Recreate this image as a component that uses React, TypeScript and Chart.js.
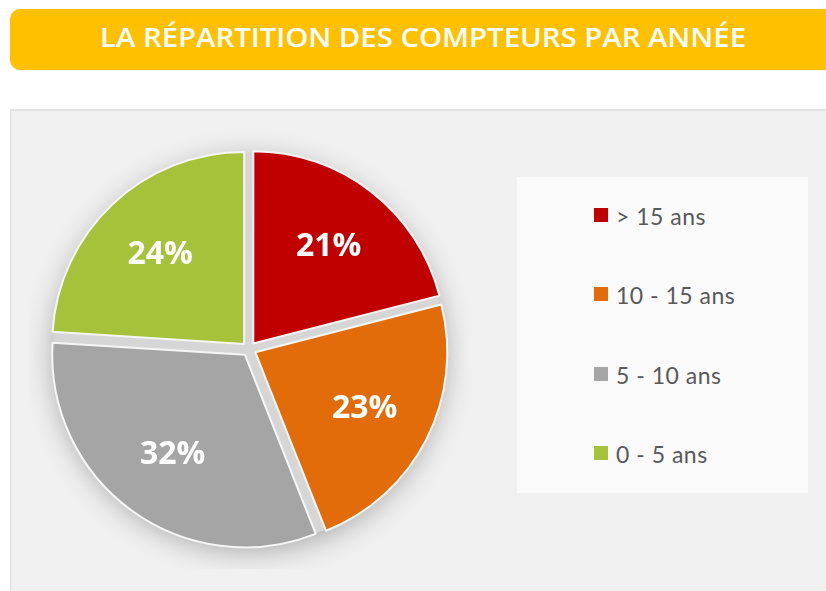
import React, { useEffect, useLayoutEffect, useRef } from "react";
import { Chart, registerables } from "chart.js";

Chart.register(...registerables);

const TITLE = "LA RÉPARTITION DES COMPTEURS PAR ANNÉE";
const categories = ["> 15 ans", "10 - 15 ans", "5 - 10 ans", "0 - 5 ans"];
const values = [21, 23, 32, 24];
const colors = ["#C00000", "#E36C0A", "#A5A5A5", "#A6C23A"];

const PIE_R = 192;
const EXPLODE = 7; // px

const shadowPlugin = {
  id: "pieShadow",
  beforeDatasetsDraw(chart: any) {
    const meta = chart.getDatasetMeta(0);
    const arc = meta.data[0];
    if (!arc) return;
    const { x, y } = arc;
    const ctx = chart.ctx;
    ctx.save();
    ctx.shadowColor = "rgba(0,0,0,0.30)";
    ctx.shadowBlur = 28;
    ctx.shadowOffsetX = 0;
    ctx.shadowOffsetY = 6;
    ctx.fillStyle = "#d6d6d6";
    ctx.beginPath();
    ctx.arc(x, y, PIE_R + 4, 0, Math.PI * 2);
    ctx.fill();
    ctx.restore();
  },
};

const labelPlugin = {
  id: "pieLabels",
  afterDatasetsDraw(chart: any) {
    const meta = chart.getDatasetMeta(0);
    const data = chart.data.datasets[0].data as number[];
    const total = data.reduce((a, b) => a + b, 0);
    const ctx = chart.ctx;
    ctx.save();
    ctx.font = "bold 32px 'Open Sans'";
    ctx.fillStyle = "#ffffff";
    ctx.textAlign = "center";
    ctx.textBaseline = "middle";
    meta.data.forEach((el: any, i: number) => {
      const { x, y, startAngle, endAngle, outerRadius } = el.getProps(
        ["x", "y", "startAngle", "endAngle", "outerRadius"],
        true
      );
      const mid = (startAngle + endAngle) / 2;
      const r = outerRadius * 0.64 + EXPLODE;
      const pct = Math.round((data[i] / total) * 100) + "%";
      ctx.fillText(pct, x + Math.cos(mid) * r, y + Math.sin(mid) * r + 1);
    });
    ctx.restore();
  },
};

function PieChart() {
  const ref = useRef<HTMLCanvasElement | null>(null);
  useEffect(() => {
    if (!ref.current) return;
    const chart = new Chart(ref.current, {
      type: "pie",
      data: {
        labels: categories,
        datasets: [
          {
            data: values,
            backgroundColor: colors,
            borderColor: "#f6f6f6",
            borderWidth: 2,
            offset: EXPLODE * 4,
            hoverOffset: 0,
            radius: PIE_R,
          } as any,
        ],
      },
      options: {
        responsive: false,
        maintainAspectRatio: false,
        animation: false,
        layout: { padding: 0 },
        plugins: {
          legend: { display: false },
          tooltip: { enabled: false },
          title: { display: false },
        },
      } as any,
      plugins: [shadowPlugin, labelPlugin],
    });
    return () => chart.destroy();
  }, []);
  return <canvas ref={ref} width={440} height={440} style={{ display: "block" }} />;
}

function Title() {
  const ref = useRef<HTMLSpanElement | null>(null);
  useLayoutEffect(() => {
    const el = ref.current;
    if (!el) return;
    const w = el.getBoundingClientRect().width;
    if (w > 0) el.style.transform = `scaleX(${646 / w})`;
  }, []);
  return (
    <span
      ref={ref}
      style={{
        position: "absolute",
        left: 100,
        top: 23,
        fontFamily: "'Open Sans', sans-serif",
        fontWeight: 600,
        fontSize: 27,
        lineHeight: "27px",
        color: "#ffffff",
        whiteSpace: "nowrap",
        transformOrigin: "left center",
        display: "inline-block",
      }}
    >
      {TITLE}
    </span>
  );
}

export default function App() {
  return (
    <div
      style={{
        position: "absolute",
        left: 0,
        top: 0,
        width: 826,
        height: 591,
        background: "#ffffff",
        overflow: "hidden",
      }}
    >
      <div
        style={{
          position: "absolute",
          left: 10,
          top: 9,
          width: 830,
          height: 61,
          background: "#FFC000",
          borderRadius: 10,
        }}
      />
      <Title />
      <div
        style={{
          position: "absolute",
          left: 10,
          top: 109,
          width: 830,
          height: 500,
          background: "#f0f0f0",
          borderTop: "2px solid #e2e2e2",
          borderLeft: "1px solid #e2e2e2",
        }}
      />
      <div style={{ position: "absolute", left: 29, top: 129, width: 440, height: 440 }}>
        <PieChart />
      </div>
      <div
        style={{
          position: "absolute",
          left: 517,
          top: 177,
          width: 291,
          height: 316,
          background: "#fafafa",
        }}
      />
      {categories.map((c, i) => (
        <div
          key={c}
          style={{
            position: "absolute",
            left: 594,
            top: 206 + i * 79.3,
            height: 22,
            whiteSpace: "nowrap",
          }}
        >
          <div
            style={{
              position: "absolute",
              left: 0,
              top: 2,
              width: 14,
              height: 14,
              background: colors[i],
            }}
          />
          <span
            style={{
              position: "absolute",
              left: 22,
              top: -1,
              fontFamily: "Lato, sans-serif",
              fontSize: 23,
              lineHeight: "23px",
              letterSpacing: "0.5px",
              color: "#595959",
            }}
          >
            {c}
          </span>
        </div>
      ))}
    </div>
  );
}
